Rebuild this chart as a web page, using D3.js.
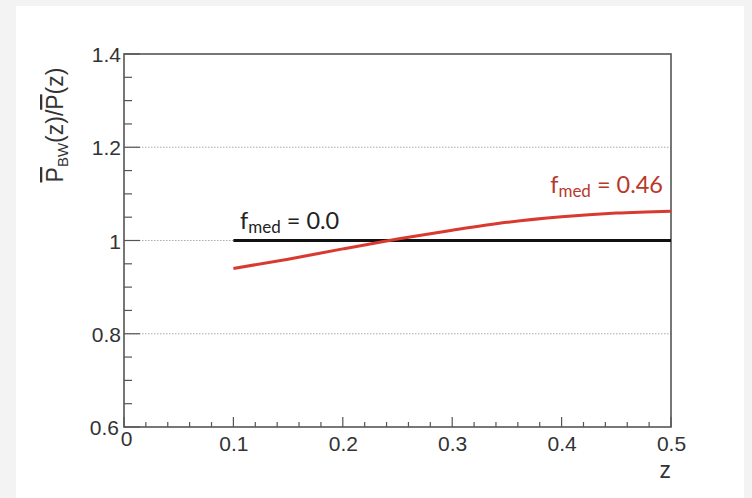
<!DOCTYPE html>
<html>
<head>
<meta charset="utf-8">
<script src="https://cdn.jsdelivr.net/npm/d3@7"></script>
<style>
  html, body { margin: 0; padding: 0; background: #f3f3f3; }
  svg { display: block; }
</style>
</head>
<body>
<svg id="chart" width="752" height="498"></svg>
<script>
// Ratio of the bandwidth-corrected mean to the plain mean, versus z
const zValues      = [0.10, 0.15, 0.20, 0.25, 0.30, 0.35, 0.40, 0.45, 0.50];
const ratioMed046  = [0.940, 0.960, 0.982, 1.003, 1.022, 1.039, 1.051, 1.059, 1.063];
const ratioMed00   = [1.0, 1.0, 1.0, 1.0, 1.0, 1.0, 1.0, 1.0, 1.0];
const xTicks = [0, 0.1, 0.2, 0.3, 0.4, 0.5];
const yTicks = [0.6, 0.8, 1.0, 1.2, 1.4];
const gridValues = [0.8, 1.0, 1.2];

const svg = d3.select("#chart");
const W = 752, H = 498;
const frame = { left: 124, right: 671, top: 54, bottom: 427 };

// white canvas
svg.append("rect").attr("x", 16).attr("y", 6).attr("width", 728).attr("height", H - 6)
  .attr("fill", "#ffffff");

const x = d3.scaleLinear().domain([0, 0.5]).range([frame.left, frame.right]);
const y = d3.scaleLinear().domain([0.6, 1.4]).range([frame.bottom, frame.top]);

const axisFont = "'Liberation Sans', Arial, Helvetica, sans-serif";
const axisColor = "#555";

// dotted horizontal grid
svg.append("g").selectAll("line").data(gridValues).join("line")
  .attr("x1", frame.left).attr("x2", frame.right)
  .attr("y1", d => y(d)).attr("y2", d => y(d))
  .attr("stroke", "#aaa").attr("stroke-width", 1)
  .attr("stroke-dasharray", "1.5,1.5");

// minor ticks
const yMinor = d3.range(0.6, 1.4001, 0.05);
const xMinor = d3.range(0, 0.5001, 0.02);

const yAxis = d3.axisLeft(y).tickValues(yTicks).tickSize(0)
  .tickFormat(d => d === 1 ? "1" : d3.format(".1f")(d)).tickPadding(4);
const xAxis = d3.axisBottom(x).tickValues(xTicks).tickSize(0)
  .tickFormat(d => d === 0 ? "0" : d3.format(".1f")(d)).tickPadding(4);

const gy = svg.append("g").attr("transform", `translate(${frame.left},0)`).call(yAxis);
gy.select(".domain").remove();
gy.selectAll("text").attr("font-family", axisFont).attr("font-size", 21)
  .attr("fill", "#333").attr("dy", "0.36em").attr("x", d => d === 0.6 ? -5 : -3);

const gx = svg.append("g").attr("transform", `translate(0,${frame.bottom})`).call(xAxis);
gx.select(".domain").remove();
gx.selectAll("text").attr("font-family", axisFont).attr("font-size", 21)
  .attr("fill", "#333").attr("dy", d => d === 0 ? "0.72em" : "0.95em").attr("x", d => d === 0 ? 2 : 0);

// tick marks drawn inward from the frame
const isMajor = v => Math.abs(Math.round(v * 10) - v * 10) < 1e-6;
const tickG = svg.append("g").attr("stroke", axisColor).attr("stroke-width", 1.2);
tickG.selectAll(".ym").data(yMinor).join("line")
  .attr("x1", frame.left).attr("x2", d => frame.left + (isMajor(d) && Math.round(d * 10) % 2 === 0 ? 16 : 8))
  .attr("y1", d => y(d)).attr("y2", d => y(d));
tickG.selectAll(".xm").data(xMinor).join("line")
  .attr("y1", frame.bottom).attr("y2", d => frame.bottom - (isMajor(d) ? 10 : 5))
  .attr("x1", d => x(d)).attr("x2", d => x(d));

// frame
svg.append("rect")
  .attr("x", frame.left).attr("y", frame.top)
  .attr("width", frame.right - frame.left).attr("height", frame.bottom - frame.top)
  .attr("fill", "none").attr("stroke", axisColor).attr("stroke-width", 1.6);

// series lines
const line = d3.line().x((d, i) => x(zValues[i])).y(d => y(d)).curve(d3.curveMonotoneX);

svg.append("path").datum(ratioMed00).attr("d", line)
  .attr("fill", "none").attr("stroke", "#111").attr("stroke-width", 3);
svg.append("path").datum(ratioMed046).attr("d", line)
  .attr("fill", "none").attr("stroke", "#d93a30").attr("stroke-width", 3);

// series labels
const labelFont = "Lato, 'Open Sans', sans-serif";
const lab0 = svg.append("text").attr("x", 240).attr("y", 229)
  .attr("font-family", labelFont).attr("font-size", 23.5).attr("fill", "#222");
lab0.append("tspan").text("f");
lab0.append("tspan").text("med").attr("font-size", 17).attr("dy", 4);
lab0.append("tspan").text(" = 0.0").attr("dy", -4);

const lab1 = svg.append("text").attr("x", 663).attr("y", 193).attr("text-anchor", "end")
  .attr("font-family", labelFont).attr("font-size", 23.5).attr("fill", "#b8392c");
lab1.append("tspan").text("f");
lab1.append("tspan").text("med").attr("font-size", 17).attr("dy", 4);
lab1.append("tspan").text(" = 0.46").attr("dy", -4);

// axis titles
const yt = svg.append("text")
  .attr("transform", "translate(63,125) rotate(-90)")
  .attr("text-anchor", "middle")
  .attr("font-family", axisFont).attr("font-size", 23).attr("fill", "#333");
yt.append("tspan").text("P").style("text-decoration", "overline");
yt.append("tspan").text("BW").attr("font-size", 15).attr("dy", 5);
yt.append("tspan").text("(z)/").attr("dy", -5);
yt.append("tspan").text("P").style("text-decoration", "overline");
yt.append("tspan").text("(z)");

svg.append("text").attr("x", 671).attr("y", 478).attr("text-anchor", "end")
  .attr("font-family", axisFont).attr("font-size", 23).attr("fill", "#333").text("z");
</script>
</body>
</html>
